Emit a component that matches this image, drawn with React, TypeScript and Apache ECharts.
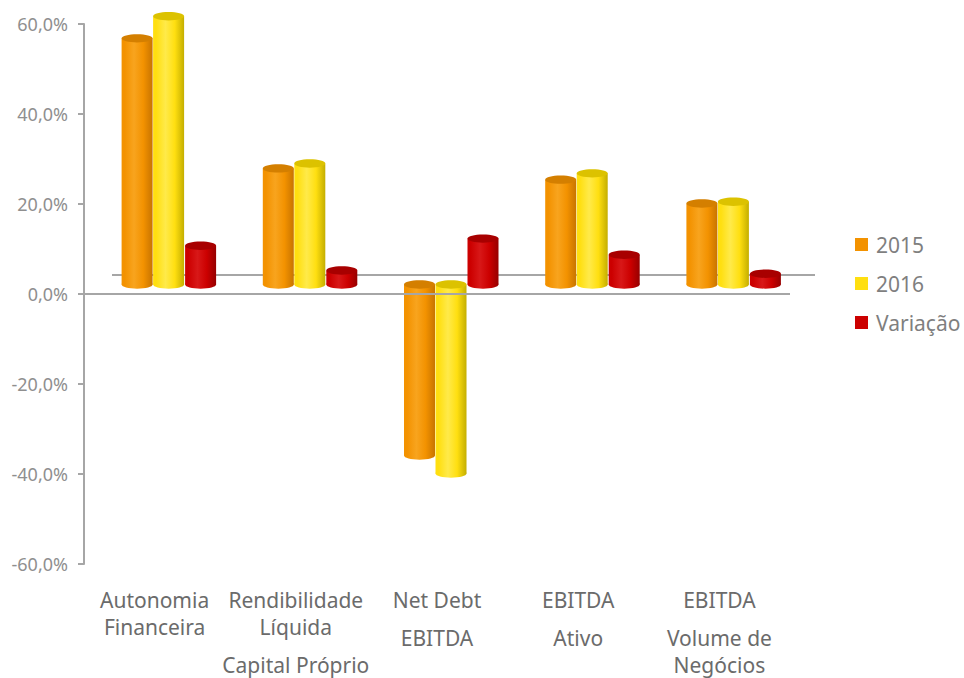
import React, { useEffect, useRef } from "react";
import * as echarts from "echarts";

const numerators: string[][] = [
  ["Autonomia", "Financeira"],
  ["Rendibilidade", "Líquida"],
  ["Net Debt"],
  ["EBITDA"],
  ["EBITDA"],
];
const denominators: string[][] = [[], ["Capital Próprio"], ["EBITDA"], ["Ativo"], ["Volume de", "Negócios"]];
const categories = numerators.map((n, i) => [...n, ...denominators[i]].join(" "));

const seriesNames = ["2015", "2016", "Variação"];
const values2015 = [54.7, 25.8, -38.0, 23.3, 18.0];
const values2016 = [59.6, 26.9, -42.0, 24.7, 18.4];
const valuesVar = [8.6, 3.1, 10.2, 6.6, 2.4];

const yTicks = { min: -60, max: 60, interval: 20 };

const W = 964;
const H = 678;
const GRID = { left: 84, right: 174, top: 24, bottom: 114 };
const DX = 14; // 3D depth shift
const DY = -9.5;
const BAR_W = 31;
const OFFSETS = [-31.5, 0, 32];

const palettes = [
  { dark: "#c87400", main: "#f39200", light: "#f8a41e", cap: "#d47f00" },
  { dark: "#c4ae00", main: "#ffdf10", light: "#ffea4a", cap: "#dcc200" },
  { dark: "#960000", main: "#cc0000", light: "#d81818", cap: "#a80000" },
];

function makeRender(seriesIdx: number) {
  const p = palettes[seriesIdx];
  const grad = () =>
    new echarts.graphic.LinearGradient(0, 0, 1, 0, [
      { offset: 0, color: p.main },
      { offset: 0.1, color: p.main },
      { offset: 0.4, color: p.light },
      { offset: 0.7, color: p.main },
      { offset: 1, color: p.dark },
    ]);
  return (params: any, api: any) => {
    const ci = api.value(0);
    const v = api.value(1);
    const base = api.coord([ci, 0]);
    const top = api.coord([ci, v]);
    const cx = base[0] + OFFSETS[seriesIdx] + DX;
    const yA = top[1] + DY;
    const yB = base[1] + DY;
    const y1 = Math.min(yA, yB);
    const y2 = Math.max(yA, yB);
    const rx = BAR_W / 2;
    const ry = 4.2;
    return {
      type: "group",
      children: [
        { type: "ellipse", shape: { cx, cy: y2, rx, ry }, style: { fill: grad() } },
        { type: "rect", shape: { x: cx - rx, y: y1, width: BAR_W, height: y2 - y1 }, style: { fill: grad() } },
        { type: "ellipse", shape: { cx, cy: y1, rx, ry }, style: { fill: p.cap } },
      ],
    };
  };
}

export default function App() {
  const ref = useRef<HTMLDivElement>(null);
  useEffect(() => {
    document.body.style.margin = "0";
    if (!ref.current) return;
    const chart = echarts.init(ref.current, undefined, { renderer: "svg", width: W, height: H });
    const allData = [values2015, values2016, valuesVar];
    const labelColor = "#6b6b6b";
    const option: any = {
      animation: false,
      backgroundColor: "#ffffff",
      grid: { ...GRID, containLabel: false },
      legend: {
        orient: "vertical",
        left: 850,
        top: 229,
        icon: "rect",
        itemWidth: 13,
        itemHeight: 13,
        itemGap: 18,
        data: seriesNames,
        textStyle: { fontFamily: "Noto Sans", fontSize: 21, lineHeight: 21, color: "#7f7f7f", padding: [0, 0, 0, 3] },
      },
      xAxis: [
        {
          type: "category",
          data: categories,
          position: "bottom",
          axisLine: { show: false, onZero: false },
          axisTick: { show: false },
          axisLabel: {
            interval: 0,
            margin: 22,
            formatter: (_v: string, i: number) => {
              const n = numerators[i].map((t) => `{n|${t}}`);
              const d = denominators[i].map((t) => `{n|${t}}`);
              return d.length ? [...n, "{g| }", ...d].join("\n") : n.join("\n");
            },
            rich: {
              n: { fontFamily: "Noto Sans", fontSize: 21, lineHeight: 27, color: labelColor, align: "center" },
              g: { fontSize: 1, lineHeight: 11 },
            },
          },
        },
      ],
      yAxis: {
        type: "value",
        min: yTicks.min,
        max: yTicks.max,
        interval: yTicks.interval,
        axisLine: { show: true, lineStyle: { color: "#a6a6a6", width: 2 } },
        axisTick: { show: true, length: 6, lineStyle: { color: "#a6a6a6", width: 2 } },
        splitLine: { show: false },
        axisLabel: {
          margin: 16,
          fontFamily: "Noto Sans",
          fontSize: 18,
          color: "#8f8f8f",
          formatter: (v: number) => v.toFixed(1).replace(".", ",") + "%",
        },
      },
      series: seriesNames.map((name, si) => ({
        type: "custom",
        name,
        itemStyle: { color: palettes[si].main },
        renderItem: makeRender(si),
        encode: { x: 0, y: 1 },
        z: 5,
        data: allData[si].map((v, i) => [i, v]),
      })),
    };
    chart.setOption(option);
    const y0 = chart.convertToPixel({ yAxisIndex: 0 }, 0) as number;
    chart.setOption({
      graphic: [
        {
          type: "line",
          z: 1,
          shape: { x1: GRID.left + 28, y1: y0 + 2 * DY, x2: W - GRID.right + 25, y2: y0 + 2 * DY },
          style: { stroke: "#a6a6a6", lineWidth: 2 },
        },
        {
          type: "line",
          z: 50,
          shape: { x1: GRID.left, y1: y0, x2: W - GRID.right, y2: y0 },
          style: { stroke: "#a6a6a6", lineWidth: 2 },
        },
      ],
    });
    return () => chart.dispose();
  }, []);
  return <div ref={ref} style={{ width: W, height: H }} />;
}
